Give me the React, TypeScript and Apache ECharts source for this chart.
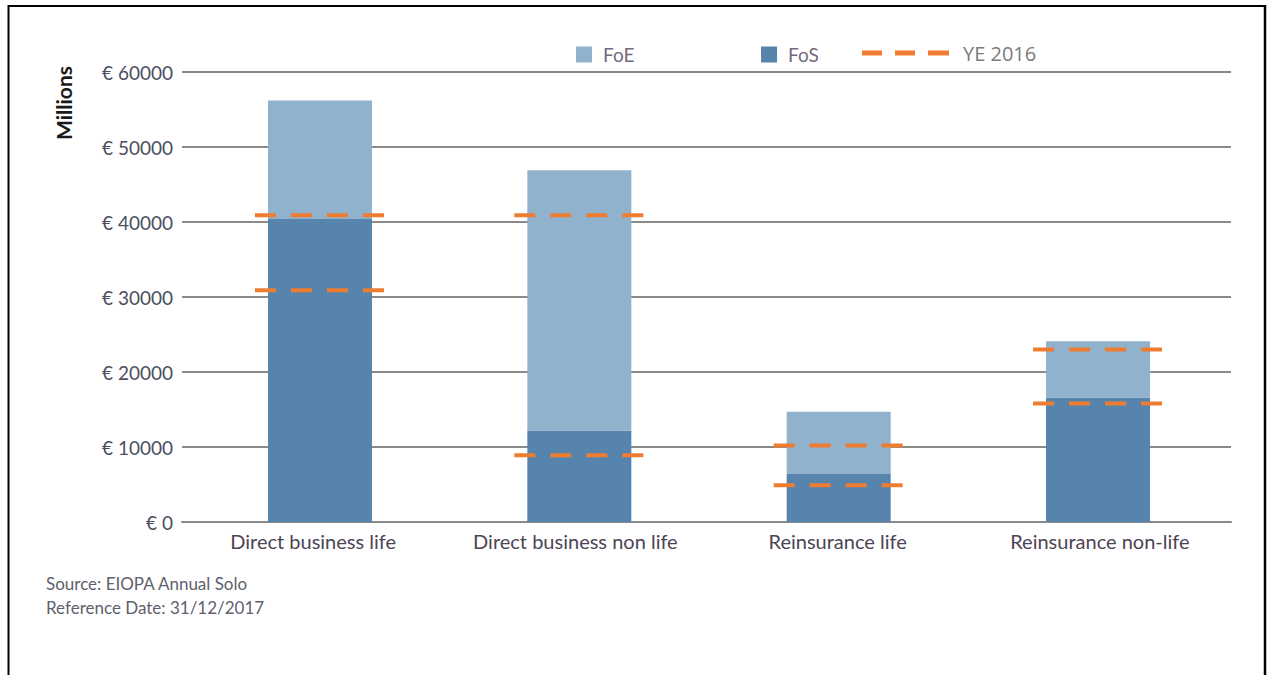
import React, { useEffect, useRef } from "react";
import * as echarts from "echarts";

const categories = [
  "Direct business life",
  "Direct business non life",
  "Reinsurance life",
  "Reinsurance non-life",
];
const fosValues = [40400, 12200, 6400, 16600];
const foeValues = [15800, 34700, 8300, 7500];
const ye2016Upper = [40900, 40900, 10200, 23000];
const ye2016Lower = [30900, 8900, 4900, 15800];
const yTicks = { min: 0, max: 60000, interval: 10000 };

const FOE_COLOR = "#91b2cd";
const FOS_COLOR = "#5784ad";
const YE_COLOR = "#ee7d31";
const FONT = "Lato, 'Open Sans', sans-serif";

const dashSeries = (vals: number[]) => ({
  type: "custom",
  name: "YE 2016",
  xAxisIndex: 1,
  yAxisIndex: 1,
  itemStyle: { color: YE_COLOR },
  data: vals.map((v, i) => [i, v]),
  encode: { x: 0, y: 1 },
  z: 10,
  renderItem: (params: any, api: any) => {
    const p = api.coord([api.value(0), api.value(1)]);
    const half = 65;
    return {
      type: "line",
      shape: { x1: p[0] - half, y1: p[1], x2: p[0] + half, y2: p[1] },
      style: { stroke: YE_COLOR, lineWidth: 4, lineDash: [21, 15], fill: null },
    };
  },
});

export default function App() {
  const ref = useRef<HTMLDivElement>(null);
  useEffect(() => {
    if (!ref.current) return;
    const chart = echarts.init(ref.current, null, { renderer: "svg" });
    chart.setOption({
      animation: false,
      backgroundColor: "#ffffff",
      grid: [
        { left: 182, right: 40, top: 72, bottom: 153 },
        { left: 190.3, right: 43.3, top: 72, bottom: 153 },
      ],
      legend: [
        {
          data: ["FoE"],
          left: 576,
          top: 45,
          padding: 0,
          icon: "rect",
          itemWidth: 16,
          itemHeight: 16,
          textStyle: { fontFamily: FONT, fontSize: 19, color: "#74697e", padding: [0, 0, 0, 6] },
        },
        {
          data: ["FoS"],
          left: 761,
          top: 45,
          padding: 0,
          icon: "rect",
          itemWidth: 16,
          itemHeight: 16,
          textStyle: { fontFamily: FONT, fontSize: 19, color: "#74697e", padding: [0, 0, 0, 6] },
        },
        {
          data: ["YE 2016"],
          left: 862,
          top: 43,
          padding: 0,
          icon: "path://M0,0H20V5H0Z M33,0H53V5H33Z M66,0H87V5H66Z",
          itemWidth: 87,
          itemHeight: 5,
          textStyle: { fontFamily: "'Open Sans', sans-serif", fontSize: 20, color: "#7b7b7b", padding: [0, 0, 0, 9] },
        },
      ],
      xAxis: [
        {
          gridIndex: 0,
          type: "category",
          data: categories,
          axisLine: { show: true, lineStyle: { color: "#8a8a8a", width: 2 } },
          axisTick: { show: false },
          axisLabel: { interval: 0, fontFamily: FONT, fontSize: 20, color: "#4d4454", margin: 9 },
        },
        {
          gridIndex: 1,
          type: "category",
          data: categories,
          axisLine: { show: false },
          axisTick: { show: false },
          axisLabel: { show: false },
        },
      ],
      yAxis: [
        {
          gridIndex: 0,
          type: "value",
          min: yTicks.min,
          max: yTicks.max,
          interval: yTicks.interval,
          axisLine: { show: false },
          axisTick: { show: false },
          splitLine: { lineStyle: { color: "#8a8a8a", width: 2 } },
          axisLabel: {
            formatter: (v: number) => "€ " + String(v),
            fontFamily: FONT,
            fontSize: 19,
            color: "#4a4f60",
            margin: 9,
          },
        },
        {
          gridIndex: 1,
          type: "value",
          min: yTicks.min,
          max: yTicks.max,
          interval: yTicks.interval,
          show: false,
          splitLine: { show: false },
        },
      ],
      series: [
        {
          name: "FoS",
          type: "bar",
          stack: "total",
          xAxisIndex: 1,
          yAxisIndex: 1,
          barWidth: 104,
          data: fosValues,
          itemStyle: { color: FOS_COLOR },
        },
        {
          name: "FoE",
          type: "bar",
          stack: "total",
          xAxisIndex: 1,
          yAxisIndex: 1,
          barWidth: 104,
          data: foeValues,
          itemStyle: { color: FOE_COLOR },
        },
        dashSeries(ye2016Upper),
        dashSeries(ye2016Lower),
      ],
      graphic: [
        { type: "line", shape: { x1: 8, y1: 6, x2: 1266, y2: 6 }, style: { stroke: "#000", lineWidth: 2 } },
        { type: "line", shape: { x1: 8.5, y1: 5, x2: 8.5, y2: 675 }, style: { stroke: "#000", lineWidth: 2 } },
        { type: "line", shape: { x1: 1265, y1: 5, x2: 1265, y2: 675 }, style: { stroke: "#000", lineWidth: 2.5 } },
        {
          type: "text",
          x: 63,
          y: 103,
          rotation: Math.PI / 2,
          style: {
            text: "Millions",
            fontFamily: FONT,
            fontWeight: "bold",
            fontSize: 21,
            fill: "#1a1a1a",
            align: "center",
            verticalAlign: "middle",
          },
        },
        {
          type: "text",
          x: 46,
          y: 583,
          style: {
            text: "Source: EIOPA Annual Solo",
            fontFamily: FONT,
            fontSize: 17,
            fill: "#60606c",
            verticalAlign: "middle",
          },
        },
        {
          type: "text",
          x: 46,
          y: 607,
          style: {
            text: "Reference Date: 31/12/2017",
            fontFamily: FONT,
            fontSize: 17,
            fill: "#60606c",
            verticalAlign: "middle",
          },
        },
      ],
    });
    return () => chart.dispose();
  }, []);
  return (
    <div
      ref={ref}
      style={{ position: "absolute", left: 0, top: 0, width: 1271, height: 675 }}
    />
  );
}
